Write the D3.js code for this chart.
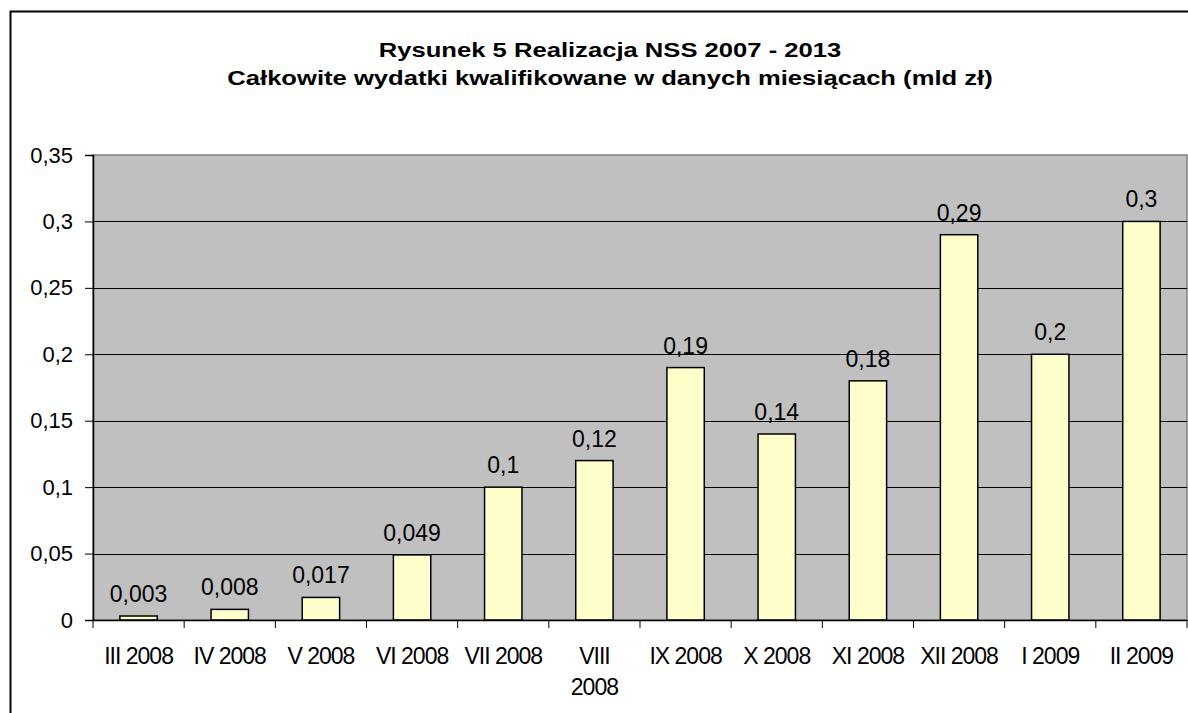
<!DOCTYPE html>
<html>
<head>
<meta charset="utf-8">
<script src="https://cdn.jsdelivr.net/npm/d3@7"></script>
<style>
  body { margin: 0; background: #fff; }
  text { font-family: "Liberation Sans", Arial, sans-serif; fill: #000; }
</style>
</head>
<body>
<div id="chart"></div>
<script>
var categories = ['III 2008', 'IV 2008', 'V 2008', 'VI 2008', 'VII 2008', 'VIII 2008',
                  'IX 2008', 'X 2008', 'XI 2008', 'XII 2008', 'I 2009', 'II 2009'];
var values = [0.003, 0.008, 0.017, 0.049, 0.1, 0.12, 0.19, 0.14, 0.18, 0.29, 0.2, 0.3];
var yTicks = [0, 0.05, 0.1, 0.15, 0.2, 0.25, 0.3, 0.35];
var titleLines = ['Rysunek 5 Realizacja NSS 2007 - 2013',
                  'Całkowite wydatki kwalifikowane w danych miesiącach (mld zł)'];

var W = 1188, H = 713;
var margin = {top: 155, right: 1, bottom: 93, left: 93},
    width = W - margin.left - margin.right,
    height = H - margin.top - margin.bottom;

var fmt = function(v) { return String(v).replace('.', ','); };

var svg = d3.select('#chart').append('svg')
    .attr('width', W)
    .attr('height', H);

// outer chart border
svg.append('rect')
    .attr('x', 10.5).attr('y', 11.5)
    .attr('width', W + 20).attr('height', H + 20)
    .style('fill', 'none')
    .style('stroke', '#000')
    .style('stroke-width', 2);

// title, drawn slightly wide like the original
svg.selectAll('.title')
    .data(titleLines)
  .enter().append('text')
    .attr('class', 'title')
    .attr('transform', function(d, i) { return 'translate(610,' + (57 + i * 28) + ') scale(1.22,1)'; })
    .style('text-anchor', 'middle')
    .style('font-weight', 'bold')
    .style('font-size', '21px')
    .text(function(d) { return d; });

var wrapper = svg.append('g')
    .attr('transform', 'translate(' + margin.left + ',' + margin.top + ')');

var xScale = d3.scaleBand().domain(categories).range([0, width]).paddingInner(0.59).paddingOuter(0.295),
    xTickScale = d3.scaleBand().domain(categories).range([0, width]),
    yScale = d3.scaleLinear().domain([0, 0.35]).range([height, 0]);

wrapper.append('rect')
    .attr('width', width)
    .attr('height', height)
    .style('fill', '#c0c0c0')
    .style('stroke', '#808080')
    .style('stroke-width', 1.5);

// gridlines
wrapper.selectAll('.grid')
    .data(yTicks.filter(function(d) { return d > 0 && d < 0.35; }))
  .enter().append('line')
    .attr('class', 'grid')
    .attr('x1', 0).attr('x2', width)
    .attr('y1', function(d) { return Math.round(yScale(d)) + 0.5; })
    .attr('y2', function(d) { return Math.round(yScale(d)) + 0.5; })
    .style('stroke', '#000')
    .style('stroke-width', 1);

// bars
wrapper.selectAll('.bar')
    .data(values)
  .enter().append('rect')
    .attr('class', 'bar')
    .attr('x', function(d, i) { return xScale(categories[i]); })
    .attr('width', xScale.bandwidth())
    .attr('y', function(d) { return yScale(d); })
    .attr('height', function(d) { return height - yScale(d); })
    .style('fill', '#ffffcc')
    .style('stroke', '#000')
    .style('stroke-width', 1.5);

// value labels
wrapper.selectAll('.val')
    .data(values)
  .enter().append('text')
    .attr('class', 'val')
    .attr('x', function(d, i) { return xScale(categories[i]) + xScale.bandwidth() / 2; })
    .attr('y', function(d) { return yScale(d) - 14; })
    .style('text-anchor', 'middle')
    .style('font-size', '23px')
    .text(function(d) { return fmt(d); });

// y axis
var yAxis = wrapper.append('g')
    .call(d3.axisLeft(yScale).tickValues(yTicks).tickSize(8).tickPadding(12).tickFormat(fmt));
yAxis.select('.domain').attr('stroke', '#000').attr('stroke-width', 1.5);
yAxis.selectAll('.tick line').attr('stroke', '#000');
yAxis.selectAll('.tick text').style('font-size', '22px').attr('font-family', null);

// x axis
var xAxis = wrapper.append('g')
    .attr('transform', 'translate(0,' + height + ')')
    .call(d3.axisBottom(xTickScale).tickSize(0).tickFormat(''));
xAxis.select('.domain').attr('stroke', '#000').attr('stroke-width', 1.5);

xAxis.selectAll('.sep')
    .data(d3.range(categories.length + 1))
  .enter().append('line')
    .attr('class', 'sep')
    .attr('x1', function(i) { return i * xTickScale.step(); })
    .attr('x2', function(i) { return i * xTickScale.step(); })
    .attr('y1', 0).attr('y2', 8)
    .style('stroke', '#000');

var labels = xAxis.selectAll('.xlab')
    .data(categories)
  .enter().append('text')
    .attr('class', 'xlab')
    .attr('x', function(d) { return xTickScale(d) + xTickScale.bandwidth() / 2; })
    .attr('y', 44)
    .style('text-anchor', 'middle')
    .style('font-size', '23px')
    .style('letter-spacing', '-1px');

labels.each(function(d) {
  var el = d3.select(this);
  var parts = d === 'VIII 2008' ? ['VIII', '2008'] : [d];
  parts.forEach(function(p, i) {
    el.append('tspan')
        .attr('x', el.attr('x'))
        .attr('dy', i === 0 ? 0 : 31)
        .text(p);
  });
});
</script>
</body>
</html>
